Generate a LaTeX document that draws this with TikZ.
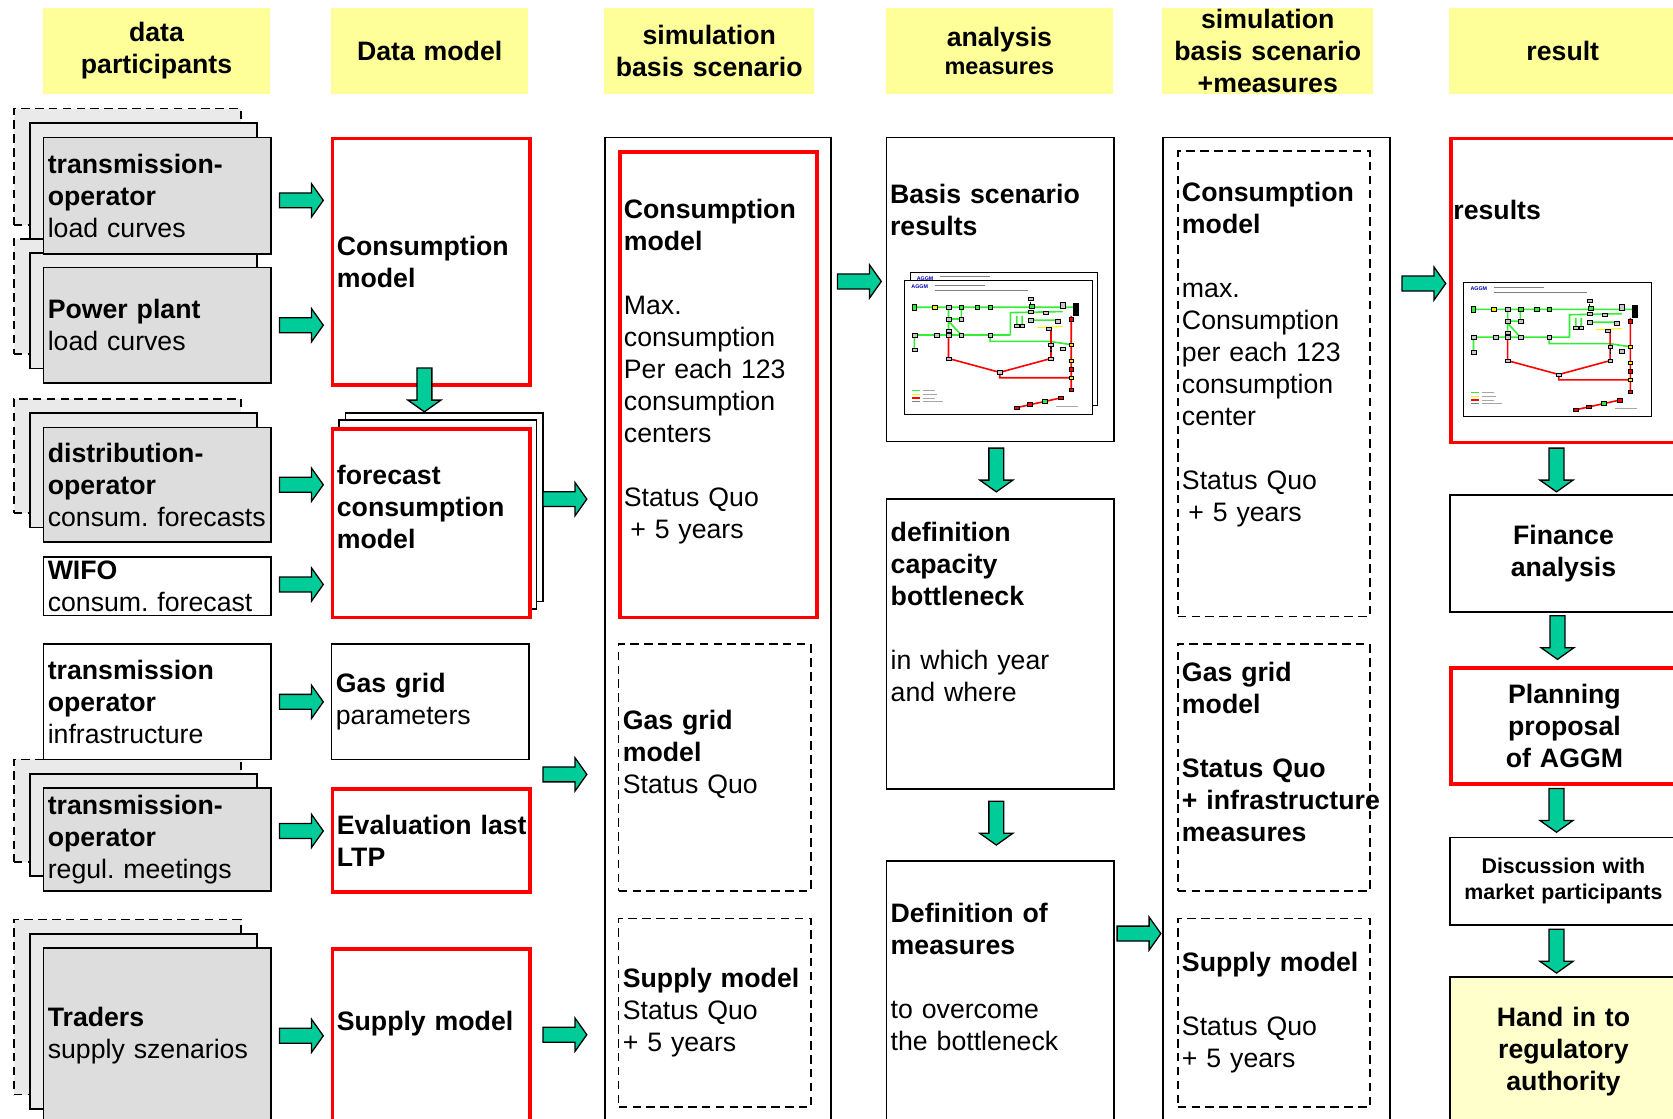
\documentclass[tikz,border=0pt]{standalone}
\usepackage{fontspec}
\setmainfont{Liberation Sans}
\usetikzlibrary{calc}

\definecolor{headyellow}{HTML}{FFFF99}
\definecolor{handyellow}{HTML}{FFFFCC}
\definecolor{boxgray}{HTML}{DDDDDD}
\definecolor{backgray}{HTML}{EAEAEA}
\definecolor{stationgray}{HTML}{C8C8C8}
\definecolor{arrowgreen}{HTML}{00CC99}
\definecolor{mapgreen}{HTML}{33EE33}

\newcommand{\bodyfont}{\fontsize{25}{30}\selectfont}
\newcommand{\smallbold}{\fontsize{20}{24}\selectfont\bfseries}
\frenchspacing
\hyphenpenalty=10000
\exhyphenpenalty=10000

\tikzset{
  headbox/.style={fill=headyellow, anchor=north west, minimum height=81pt, inner sep=0pt, align=center, font=\bodyfont\bfseries},
  partbox/.style={draw, line width=1.6pt, anchor=north west, align=left, inner xsep=4pt, inner ysep=0pt},
  redbox/.style={partbox, draw=red, line width=3.5pt},
  dashbox/.style={partbox, dash pattern=on 8pt off 5pt},
  backbox/.style={draw, line width=1.6pt, fill=backgray, anchor=north west, minimum width=213pt, inner sep=0pt},
  plainback/.style={draw, line width=1.6pt, fill=white, anchor=north west, minimum width=185pt, minimum height=177pt, inner sep=0pt},
  outerbox/.style={draw, line width=1.6pt, anchor=north west, inner sep=0pt, minimum height=960pt},
  colwide/.style={text width=205pt},
  colnarrow/.style={text width=177pt},
  colslim/.style={text width=172pt},
  arrowline/.style={draw=black, fill=arrowgreen, line width=1.2pt, line join=miter},
  garrow/.pic={
    \draw[arrowline] (0,0) -- (-11,-15.5) -- (-11,-7) -- (-41,-7) -- (-41,7) -- (-11,7) -- (-11,15.5) -- cycle;
  },
  gridmap/.pic={
    \draw[line width=0.8pt, fill=white] (0,0) rectangle (176,125);
    \node[font=\fontsize{5}{5}\selectfont\bfseries, text=blue!70!black, inner sep=0pt] (-logo) at (14,6) {AGGM};
    \draw[gray, line width=0.7pt] (28,4) -- (75,4) (28,9) -- (115,9);
    % pipelines
    \draw[mapgreen, line width=1.5pt] (9,25) -- (163,25) (41,25) -- (41,51) (53,25) -- (53,36) -- (41,36)
      (41,38) -- (53,51) (9,51) -- (99,51) (9,51) -- (9,65) (80,51) -- (80,57) -- (136,57) -- (156,60)
      (99,51) -- (99,30) -- (148,29) (118,37) -- (145,37) (105,42) -- (105,33) (110,42) -- (110,33);
    \draw[red, line width=1.5pt] (41,51) -- (41,73) -- (89,86) -- (137,73) -- (137,45)
      (89,86) -- (89,91) -- (156,91) (156,33) -- (156,102) (105,119) -- (146,110);
    \draw[yellow, line width=1pt] (124,44) -- (148,43);
    \draw[line width=1pt, dash pattern=on 2pt off 1pt] (118,17) -- (118,24) (137,62) -- (137,67);
    % stations
    \foreach \px/\py/\c in {28/25/yellow, 41/25/stationgray, 53/25/mapgreen, 68/25/mapgreen, 80/25/mapgreen,
      119/24/mapgreen, 41/36/stationgray, 53/36/stationgray, 41/47/stationgray, 41/51/stationgray,
      53/51/stationgray, 30/51/stationgray, 9/51/stationgray, 9/65/stationgray, 80/51/stationgray,
      41/73/stationgray, 89/86/stationgray, 137/73/stationgray, 137/60/stationgray, 156/36/red,
      156/60/yellow, 156/75/yellow, 156/83/red, 156/91/yellow, 156/102/red, 105/119/red, 117/116/red,
      131/113/mapgreen, 146/110/red, 118/17/stationgray, 118/29/stationgray, 118/37/stationgray,
      105/42/stationgray, 110/42/stationgray, 135/45/stationgray, 143/38/stationgray, 148/64/stationgray,
      132/30/stationgray, 160/23/black, 160/27/black, 160/31/black}
      \draw[line width=0.4pt, fill=\c] (\px-2.2,\py-1.6) rectangle (\px+2.2,\py+1.6);
    \draw[line width=0.4pt, fill=mapgreen] (7,22) rectangle (11,28);
    \draw[line width=0.4pt, fill=stationgray] (146,20) rectangle (150,26);
    % legend
    \draw[mapgreen, line width=1pt] (7,103) -- (14,103);
    \draw[yellow, line width=1pt] (7,106.5) -- (14,106.5);
    \draw[red, line width=1.4pt] (7,110) -- (14,110);
    \draw[gray, line width=0.5pt] (7,113) -- (14,113);
    \draw[gray!70, line width=0.5pt] (17,103) -- (28,103) (17,106.5) -- (30,106.5) (17,110) -- (28,110)
      (17,113) -- (36,113) (142,118) -- (162,118);
  }
}

% stacked data source: name, x, y, height, text
\newcommand{\partstack}[5]{%
  \node[backbox, dash pattern=on 8pt off 5pt, minimum height=#4pt] (#1-c) at (#2-28,#3-27) {};
  \node[backbox, minimum height=#4pt] (#1-b) at (#2-13,#3-13.5) {};
  \node[partbox, colwide, fill=boxgray, minimum height=#4pt] (#1) at (#2,#3) {#5};}

\begin{document}
\begin{tikzpicture}[x=1pt, y=-1pt, font=\bodyfont]
\useasboundingbox[fill=white] (0,0) rectangle (1568,1048);

% headings
\node[headbox, text width=213pt] (h1) at (40,7) {data\\participants};
\node[headbox, text width=185pt] (h2) at (310,7) {Data model};
\node[headbox, text width=197pt] (h3) at (566,7) {simulation\\basis scenario};
\node[headbox, text width=213pt] (h4) at (830,7) {analysis\\[-3pt]{\fontsize{22}{27}\selectfont measures}};
\node[headbox, text width=198pt] (h5) at (1089,7) {simulation\\basis scenario\\+measures};
\node[headbox, text width=213pt] (h6) at (1358,7) {result};

% data participants (lower stacks first, upper ones lie on top)
\partstack{trd}{40}{888}{164}{\textbf{Traders}\\supply szenarios}
\partstack{tsoR}{40}{738}{96}{\textbf{transmission-}\\\textbf{operator}\\regul. meetings}
\node[partbox, colwide, minimum height=108pt] (tsoI) at (40,603) {\textbf{transmission}\\\textbf{operator}\\infrastructure};
\node[partbox, colwide, minimum height=55pt] (wifo) at (40,521) {\textbf{WIFO}\\consum. forecast};
\partstack{dso}{40}{400}{107}{\textbf{distribution-}\\\textbf{operator}\\consum. forecasts}
\partstack{pp}{40}{250}{108}{\textbf{Power plant}\\load curves}
\partstack{tsoA}{40}{128}{109}{\textbf{transmission-}\\\textbf{operator}\\load curves}

% data model
\node[redbox, colnarrow, minimum height=231pt] (cons) at (310,128) {\textbf{Consumption}\\\textbf{model}};
\node[plainback] (fcb) at (323,386) {};
\node[plainback] (fcb2) at (317,393) {};
\node[redbox, colnarrow, fill=white, minimum height=177pt] (fc) at (310,400) {\textbf{forecast}\\\textbf{consumption}\\\textbf{model}\\\mbox{}};
\node[partbox, colnarrow, minimum height=108pt] (gasp) at (310,603) {\textbf{Gas grid}\\parameters};
\node[redbox, colnarrow, minimum height=96pt] (evl) at (310,738) {\textbf{Evaluation~last}\\\textbf{LTP}};
\node[redbox, colnarrow, minimum height=194pt] (supp) at (310,888) {\textbf{Supply model}\\\mbox{}\\\mbox{}};

% simulation basis scenario
\node[outerbox, minimum width=212pt] (sim) at (566,128) {};
\node[redbox, colnarrow, minimum height=436pt] (cons3) at (579,141) {\textbf{Consumption}\\\textbf{model}\\\mbox{}\\Max.\\consumption\\Per each 123\\consumption\\centers\\\mbox{}\\Status Quo\\\hspace*{6pt}+ 5 years\\\mbox{}};
\node[dashbox, colslim, minimum height=231pt] (gasm) at (579,603) {\textbf{Gas grid}\\\textbf{model}\\Status Quo\\\mbox{}};
\node[dashbox, colslim, minimum height=177pt] (supm) at (579,860) {\textbf{Supply model}\\Status Quo\\+ 5 years};

% analysis measures
\node[partbox, colwide, minimum height=285pt] (bsr) at (830,128) {};
\node[anchor=north west, inner sep=0pt, align=left, text width=205pt, font=\bodyfont\bfseries] (bsrt) at ($(bsr.north west)+(4,44)$) {Basis scenario\\results};
\pic (mapB) at ($(bsr.north west)+(23,127)$) {gridmap};
\pic (mapF) at ($(bsr.north west)+(18,135)$) {gridmap};
\node[partbox, colwide, minimum height=272pt] (dcb) at (830,467) {\textbf{definition}\\\textbf{capacity}\\\textbf{bottleneck}\\\mbox{}\\in which year\\and where\\\mbox{}\\\mbox{}};
\node[partbox, colwide, minimum height=278pt] (defm) at (830,806) {\textbf{Definition of}\\\textbf{measures}\\\mbox{}\\to overcome\\the bottleneck\\\mbox{}\\\mbox{}};

% simulation basis scenario + measures
\node[outerbox, minimum width=213pt] (sim2) at (1089,128) {};
\node[dashbox, colslim, minimum height=436pt] (cons5) at (1103,141) {\textbf{Consumption}\\\textbf{model}\\\mbox{}\\max.\\Consumption\\per each 123\\consumption\\center\\\mbox{}\\Status Quo\\\hspace*{6pt}+ 5 years\\\mbox{}\\\mbox{}};
\node[dashbox, colslim, minimum height=231pt] (gas5) at (1103,603) {\textbf{Gas grid}\\\textbf{model}\\\mbox{}\\\textbf{Status Quo}\\\mbox{\textbf{+ infrastructure}}\\\textbf{measures}\\\mbox{}};
\node[dashbox, colslim, minimum height=177pt] (sup5) at (1103,860) {\textbf{Supply model}\\\mbox{}\\Status Quo\\+ 5 years};

% result
\node[redbox, colwide, minimum height=285pt] (res) at (1358,128) {};
\node[anchor=north west, inner sep=0pt, font=\bodyfont\bfseries] (rest) at ($(res.north west)+(4,59)$) {results};
\pic (mapR) at ($(res.north west)+(14,137)$) {gridmap};
\node[partbox, colwide, align=center, font=\bodyfont\bfseries, minimum height=110pt] (fin) at (1358,463) {Finance\\analysis};
\node[redbox, colwide, align=center, font=\bodyfont\bfseries, minimum height=109pt] (plan) at (1358,624) {Planning\\proposal\\of AGGM};
\node[partbox, colwide, align=center, font=\smallbold, minimum height=82pt] (disc) at (1358,784) {Discussion with\\market participants};
\node[partbox, colwide, align=center, font=\bodyfont\bfseries, fill=handyellow, minimum height=140pt] (hand) at (1358,915) {Hand in to\\regulatory\\authority};

% arrows
\pic[xshift=-7pt, yshift=-4.5pt] at (cons.west |- tsoA.east) {garrow};
\pic[xshift=-7pt] at (cons.west |- pp.east) {garrow};
\pic[xshift=-7pt] at (fc.west |- dso.east) {garrow};
\pic[xshift=-7pt, yshift=1.5pt] at (fc.west |- wifo.east) {garrow};
\pic[xshift=-7pt] at (gasp.west |- tsoI.east) {garrow};
\pic[xshift=-7pt, yshift=8pt] at (evl.west |- tsoR.east) {garrow};
\pic[xshift=-7pt] at (supp.west |- trd.east) {garrow};
\pic[xshift=-16pt, yshift=7.5pt] at (sim.west |- fcb.east) {garrow};
\pic[xshift=-16pt, yshift=-6.5pt] at (sim.west |- gasm.west) {garrow};
\pic[xshift=-16pt, yshift=17pt] at (sim.west |- supp.west) {garrow};
\pic[xshift=-4pt, yshift=7.5pt] at (bsr.west) {garrow};
\pic[xshift=-1pt, yshift=-69pt] at (sim2.west |- defm.north) {garrow};
\pic[xshift=-3pt, yshift=6.5pt] at (res.west) {garrow};
\pic[xshift=-6.5pt, rotate=-90] at (fcb.north -| cons.south) {garrow};
\pic[xshift=-3.5pt, yshift=6pt, rotate=-90] at (dcb.north) {garrow};
\pic[xshift=-3.5pt, yshift=14pt, rotate=-90] at (defm.north) {garrow};
\pic[xshift=-6.5pt, yshift=2pt, rotate=-90] at (fin.north) {garrow};
\pic[xshift=-6.5pt, yshift=6pt, rotate=-90] at (plan.north) {garrow};
\pic[xshift=-6.5pt, yshift=4pt, rotate=-90] at (disc.north) {garrow};
\pic[xshift=-6.5pt, yshift=3pt, rotate=-90] at (hand.north) {garrow};
\end{tikzpicture}
\end{document}
